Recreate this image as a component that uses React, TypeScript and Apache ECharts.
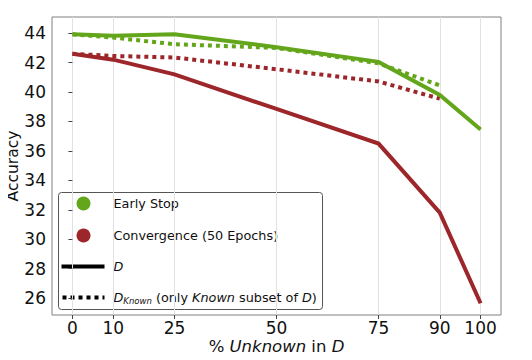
import React, { useEffect, useRef } from "react";
import * as echarts from "echarts";

const xTicks = [0, 10, 25, 50, 75, 90, 100];
const yTicks = [26, 28, 30, 32, 34, 36, 38, 40, 42, 44];
const earlyD = [[0, 43.92], [10, 43.82], [25, 43.92], [50, 43.05], [75, 42.05], [90, 39.8], [100, 37.45]];
const earlyKnown = [[0, 43.92], [10, 43.7], [25, 43.25], [50, 43.0], [75, 41.95], [90, 40.45]];
const convD = [[0, 42.6], [10, 42.2], [25, 41.2], [50, 38.85], [75, 36.5], [90, 31.8], [100, 25.65]];
const convKnown = [[0, 42.6], [10, 42.45], [25, 42.35], [50, 41.55], [75, 40.72], [90, 39.55]];

const GREEN = "#63a61b";
const RED = "#9c2629";
const FONT = "DejaVu Sans";

export default function App() {
  const ref = useRef<HTMLDivElement>(null);
  useEffect(() => {
    const chart = echarts.init(ref.current!, null, { renderer: "svg" });
    const lineSeries = (data: number[][], color: string, dotted: boolean, z: number) => ({
      type: "line",
      data,
      symbol: "none",
      z,
      lineStyle: { color, width: 4, type: dotted ? [4, 4] : "solid", cap: "butt", join: "miter" },
    });
    chart.setOption({
      animation: false,
      grid: {
        left: 52, right: 31, top: 17, bottom: 45, show: true, borderColor: "#808080", borderWidth: 1,
        containLabel: false, outerBoundsMode: "none",
      },
      xAxis: {
        type: "value",
        min: -5,
        max: 105,
        name: "% {i|Unknown} in {i|D}",
        nameLocation: "middle",
        nameGap: 23,
        nameMoveOverlap: false,
        nameTextStyle: {
          fontFamily: FONT, fontSize: 16.5, color: "#111",
          rich: { i: { fontFamily: FONT, fontSize: 16.5, fontStyle: "italic", color: "#111" } },
        },
        axisLine: { show: false },
        axisTick: { show: true, customValues: xTicks, length: 4, lineStyle: { color: "#444" } },
        axisLabel: { customValues: xTicks, fontFamily: FONT, fontSize: 17, color: "#111", margin: 4 },
        splitLine: { show: true, lineStyle: { color: "#e2e2e2", width: 1 } },
      },
      yAxis: {
        type: "value",
        min: 24.85,
        max: 45.1,
        name: "Accuracy",
        nameLocation: "middle",
        nameGap: 31,
        nameMoveOverlap: false,
        nameTextStyle: { fontFamily: FONT, fontSize: 15.5, color: "#111" },
        axisLine: { show: false },
        axisTick: { show: true, customValues: yTicks, length: 4, lineStyle: { color: "#444" } },
        axisLabel: { customValues: yTicks, fontFamily: FONT, fontSize: 17, color: "#111", margin: 6 },
        splitLine: { show: false },
      },
      series: [
        lineSeries(convD, RED, false, 2),
        lineSeries(convKnown, RED, true, 3),
        lineSeries(earlyD, GREEN, false, 4),
        lineSeries(earlyKnown, GREEN, true, 5),
      ],
      graphic: [
        {
          type: "group",
          left: 58,
          top: 192,
          z: 100,
          children: [
            { type: "rect", shape: { x: 0, y: 0, width: 264, height: 117, r: 3 }, style: { fill: "rgba(255,255,255,0.85)", stroke: "#555", lineWidth: 1 } },
            { type: "circle", shape: { cx: 25, cy: 11, r: 7 }, style: { fill: GREEN } },
            { type: "text", x: 55, y: 11, style: { text: "Early Stop", fontFamily: FONT, fontSize: 12.8, fill: "#111", verticalAlign: "middle" } },
            { type: "circle", shape: { cx: 25, cy: 43, r: 7 }, style: { fill: RED } },
            { type: "text", x: 55, y: 43, style: { text: "Convergence (50 Epochs)", fontFamily: FONT, fontSize: 12.8, fill: "#111", verticalAlign: "middle" } },
            { type: "line", shape: { x1: 3, y1: 74, x2: 46, y2: 74 }, style: { stroke: "#000", lineWidth: 4 } },
            { type: "text", x: 55, y: 74, style: { text: "D", fontFamily: FONT, fontSize: 12.8, fontStyle: "italic", fill: "#111", verticalAlign: "middle" } },
            { type: "line", shape: { x1: 4, y1: 105, x2: 46, y2: 105 }, style: { stroke: "#000", lineWidth: 4, lineDash: [4, 4] } },
            {
              type: "text", x: 55, y: 105,
              style: {
                text: "{i|D}{s|Known}{n| (only }{i|Known}{n| subset of }{i|D}{n|)}",
                fontFamily: FONT, fontSize: 12.8, fill: "#111", verticalAlign: "middle",
                rich: {
                  i: { fontFamily: FONT, fontSize: 12.8, fontStyle: "italic", fill: "#111" },
                  n: { fontFamily: FONT, fontSize: 12.8, fill: "#111" },
                  s: { fontFamily: FONT, fontSize: 8.5, fontStyle: "italic", fill: "#111", padding: [6, 0, 0, 0] },
                },
              },
            },
          ],
        },
      ],
    });
    return () => chart.dispose();
  }, []);
  return <div ref={ref} style={{ width: 532, height: 360, margin: -8 }} />;
}
